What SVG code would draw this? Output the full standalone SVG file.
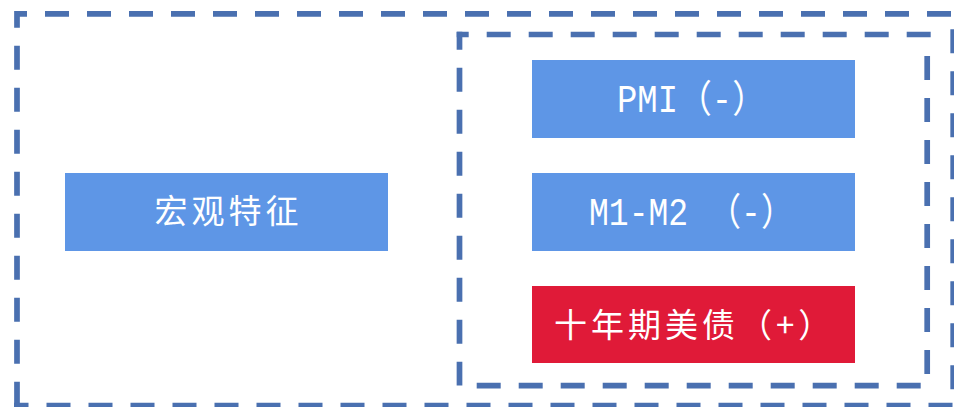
<svg xmlns="http://www.w3.org/2000/svg" width="954" height="407" viewBox="0 0 954 407">
  <style>
    .frame line { stroke: #4A70B0; stroke-width: 5.7; stroke-dasharray: 24 18; fill: none; stroke-linecap: butt; }
    .blue { fill: #5E96E6; }
    .red { fill: #E01A38; }
    .cn { fill: #FFFFFF; font-family: "Noto Sans CJK SC", "Noto Sans", sans-serif; font-size: 33px; letter-spacing: 4px; }
    .lat { fill: #FFFFFF; font-family: "Liberation Mono", "Noto Sans CJK SC", monospace; font-size: 38px; }
  </style>
  <rect width="954" height="407" fill="#FFFFFF"/>

  <g id="frame-outer" class="frame">
    <line x1="17" y1="13.85" x2="951" y2="13.85" stroke-dashoffset="14"/>
    <line x1="17" y1="11" x2="17" y2="405.7" stroke-dashoffset="7.3"/>
    <line x1="14" y1="405.5" x2="952.7" y2="405.5" stroke-dashoffset="9.5"/>
    <line x1="953.2" y1="29.3" x2="953.2" y2="389.3" stroke-dashoffset="0"/>
  </g>

  <g id="frame-inner" class="frame">
    <line x1="456.7" y1="34.5" x2="930.7" y2="34.5" stroke-dashoffset="12"/>
    <line x1="459.5" y1="31.7" x2="459.5" y2="385.5" stroke-dashoffset="6"/>
    <line x1="927.2" y1="56" x2="927.2" y2="374.5" stroke-dashoffset="0"/>
    <line x1="476.7" y1="385.7" x2="920.7" y2="385.7" stroke-dashoffset="0"/>
  </g>

  <g id="connectors"/>

  <g id="node-macro">
    <rect class="blue" x="65" y="173" width="323" height="78"/>
    <text class="cn" x="154.4" y="223.4">宏观特征</text>
  </g>

  <g id="node-pmi">
    <rect class="blue" x="532" y="60" width="323" height="78"/>
    <text class="lat" x="617" y="111.5" textLength="149" lengthAdjust="spacingAndGlyphs">PMI（-）</text>
  </g>

  <g id="node-m1m2">
    <rect class="blue" x="532" y="173" width="323" height="78"/>
    <text class="lat" x="589" y="225" textLength="205" lengthAdjust="spacingAndGlyphs">M1-M2 （-）</text>
  </g>

  <g id="node-treasury">
    <rect class="red" x="532" y="286" width="323" height="77"/>
    <text class="cn" x="554" y="337">十年期美债（+）</text>
  </g>
</svg>
